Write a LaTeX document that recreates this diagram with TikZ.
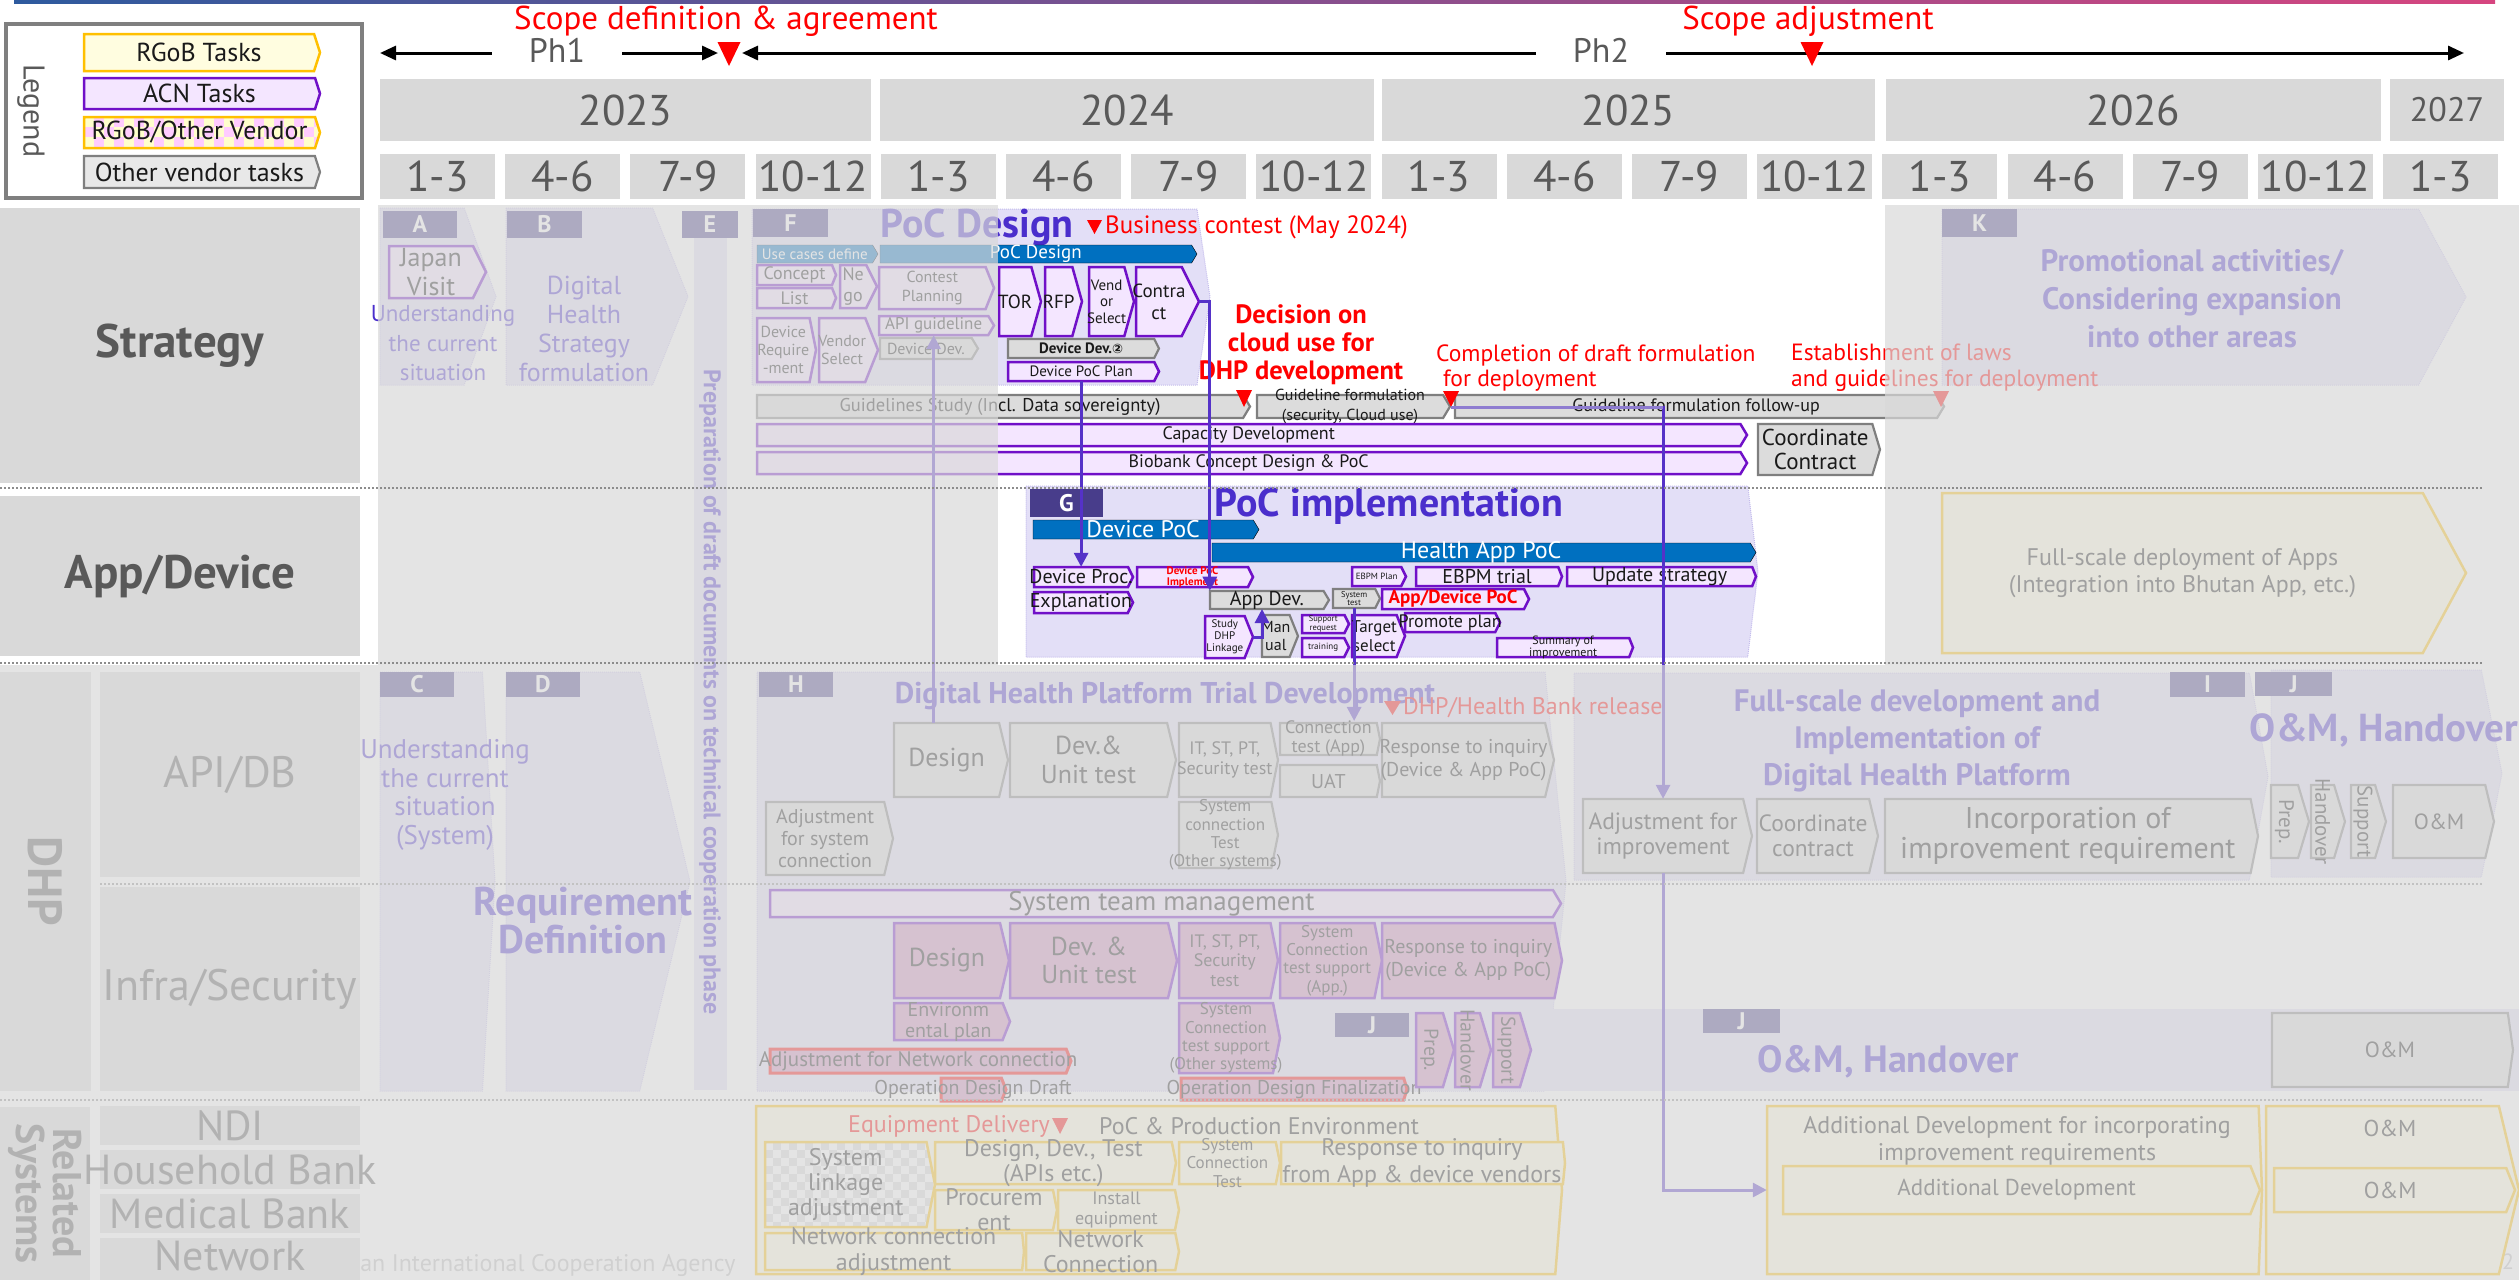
\documentclass[tikz,border=0pt]{standalone}
\usepackage{fontspec}
\setmainfont{PT Sans}
\newfontfamily\symb{DejaVu Sans}
\usetikzlibrary{arrows.meta}
\definecolor{acnD}{HTML}{7010C8}
\definecolor{acnF}{HTML}{F4E6FF}
\definecolor{acnP}{HTML}{D28CBE}
\definecolor{rgobD}{HTML}{FFC000}
\definecolor{rgobF}{HTML}{FFFDE0}
\definecolor{othD}{HTML}{7F7F7F}
\definecolor{othF}{HTML}{DCDCDC}
\definecolor{phaseF}{HTML}{E3DFF7}
\definecolor{phaseD}{HTML}{C4BCEC}
\definecolor{labC}{HTML}{483D8B}
\definecolor{blueC}{HTML}{0070C0}
\definecolor{ttlC}{HTML}{4A2ECC}
\definecolor{hdrF}{HTML}{D9D9D9}
\definecolor{hdrT}{HTML}{595959}
\definecolor{txtC}{HTML}{1A1A1A}
\definecolor{connC}{HTML}{5532C8}
\definecolor{connL}{HTML}{8E7CD0}
\definecolor{topL}{HTML}{2E5A9E}
\definecolor{topR}{HTML}{D6457F}
\definecolor{fadeC}{HTML}{D9D9D9}
\definecolor{dotC}{HTML}{8C8C8C}
\definecolor{pinkC}{HTML}{FFCCFF}
\definecolor{creamC}{HTML}{FFFFCC}
\definecolor{jicaC}{HTML}{BBBBBB}
\newcommand\fsz[2][1.15]{\fontsize{#2}{\fpeval{#1*#2}}\selectfont}
\tikzset{
 acn/.style={draw=acnD, fill=acnF, line width=2.5pt},
 acnp/.style={draw=acnD, fill=acnP, line width=2.5pt},
 rgob/.style={draw=rgobD, fill=rgobF, line width=2.5pt},
 oth/.style={draw=othD, fill=othF, line width=2.2pt},
 redb/.style={draw=red, fill=acnP, line width=3pt},
 phase/.style={draw=phaseD, fill=phaseF, line width=1pt, densely dotted},
 bluebar/.style={fill=blueC},
 tx/.style={font={\fsz{#1}}, text=txtC},
 txl/.style 2 args={font={\fsz[#2]{#1}}, text=txtC},
 txb/.style={font={\fsz{#1}\bfseries}, text=txtC},
 wt/.style={font={\fsz{#1}}, text=white},
 ttl/.style={font={\fsz{#1}\bfseries}, text=ttlC, align=center, inner sep=0},
 ttll/.style 2 args={font={\fsz[#2]{#1}\bfseries}, text=ttlC, align=center, inner sep=0},
 ptx/.style 2 args={font={\fsz[#2]{#1}}, text=ttlC, align=center, inner sep=0},
 rtx/.style={font={\fsz{#1}}, text=red, inner sep=0},
 lab/.style={fill=labC, text=white, font={\fsz{24}\bfseries}, inner sep=0},
 hdr/.style={fill=hdrF, text=hdrT, inner sep=0},
 conn/.style={draw=connC, line width=3pt, -{Triangle[length=14pt,width=14pt]}},
 dots/.style={draw=dotC, line width=1.8pt, dash pattern=on 1.8pt off 2.2pt},
}
% chevron: [tip fraction]{name}{draw style}{node style}{x1}{y1}{x2}{y2}{text}
\newcommand{\chev}[9][0.15]{%
 \pgfmathsetmacro\chD{#1*((#8)-(#6))}%
 \pgfmathsetmacro\chM{((#6)+(#8))/2}%
 \pgfmathsetmacro\chB{(#7)-\chD}%
 \pgfmathsetmacro\chW{\chB-(#5)}%
 \pgfmathsetmacro\chH{(#8)-(#6)}%
 \pgfmathsetmacro\chX{((#5)+\chB)/2}%
 \draw[#3] (#5,#6) -- (\chB,#6) -- (#7,\chM) -- (\chB,#8) -- (#5,#8) -- cycle;
 \node[inner sep=0, minimum width=\chW, minimum height=\chH, align=center, #4] (#2) at (\chX,\chM) {#9};
}
\newcommand\lbl[6]{\node[lab, minimum width={#4-#2}, minimum height={#5-#3}] (#1) at ({(#2+#4)/2},{(#3+#5)/2}) {#6};}
\newcommand\hdrbox[7]{\node[hdr, font={\fsz{#6}}, minimum width={#4-#2}, minimum height={#5-#3}] (#1) at ({(#2+#4)/2},{(#3+#5)/2}) {#7};}
\newcommand\rtri[5]{\fill[#5] ({#1-#4},#2) -- ({#1+#4},#2) -- (#1,#3) -- cycle;}
\begin{document}
\begin{tikzpicture}[x=1pt,y=-1pt]
\useasboundingbox (0,0) rectangle (2519,1280);
\shade[left color=topL, right color=topR] (14,0) rectangle (2495,3.5);

% ---------- legend ----------
\node[draw=othD, line width=4pt, fill=white, minimum width=356, minimum height=174, inner sep=0] (legend) at (184,111) {};
\node[rotate=-90, text=hdrT, font={\fsz{30}}] (legT) at (31,111) {Legend};
\chev[0.16]{lg1}{rgob}{tx=26}{84}{34}{320}{71}{RGoB Tasks}
\chev[0.16]{lg2}{acn}{tx=26}{84}{78}{320}{109}{ACN Tasks}
\begin{scope}
\clip (84,117) -- (315,117) -- (320,132.5) -- (315,148) -- (84,148) -- cycle;
\fill[creamC] (84,117) rectangle (320,148);
\foreach \i in {0,...,23} \foreach \j in {0,...,3} {\ifodd\numexpr\i+\j\relax \fill[pinkC] ({84+10*\i},{117+10*\j}) rectangle ++(10,10); \fi}
\end{scope}
\chev[0.16]{lg3}{draw=rgobD, line width=2.5pt}{tx=26}{84}{117}{320}{148}{RGoB/Other Vendor}
\chev[0.16]{lg4}{oth, fill=black!9}{tx=26}{84}{156}{320}{188}{Other vendor tasks}

% ---------- header ----------
\node[rtx=33] (sda) at (726,21) {Scope definition \& agreement};
\node[rtx=33] (sadj) at (1808,21) {Scope adjustment};
\node[text=hdrT, font={\fsz{34}}, inner xsep=37pt, inner ysep=0] (ph1) at (557,50) {Ph1};
\node[text=hdrT, font={\fsz{34}}, inner xsep=37pt, inner ysep=0] (ph2) at (1601,50) {Ph2};
\coordinate (ph1a) at (380,53); \coordinate (ph1b) at (718,53);
\coordinate (ph2a) at (742,53); \coordinate (ph2b) at (2464,53);
\draw[line width=3pt, -{Triangle[length=16pt,width=14pt]}] (ph1.west |- ph1a) -- (ph1a);
\draw[line width=3pt, -{Triangle[length=16pt,width=14pt]}] (ph1.east |- ph1b) -- (ph1b);
\draw[line width=3pt, -{Triangle[length=16pt,width=14pt]}] (ph2.west |- ph2a) -- (ph2a);
\draw[line width=3pt, -{Triangle[length=16pt,width=14pt]}] (ph2.east |- ph2b) -- (ph2b);
\rtri{729}{42}{66}{11.5}{red}
\rtri{1812}{42}{66}{11.5}{red}
\hdrbox{y23}{380}{79}{871}{141}{43}{2023}
\hdrbox{y24}{880}{79}{1374}{141}{43}{2024}
\hdrbox{y25}{1382}{79}{1875}{141}{43}{2025}
\hdrbox{y26}{1886}{79}{2381}{141}{43}{2026}
\hdrbox{y27}{2390}{79}{2504}{141}{34}{2027}
\foreach \ql [count=\i from 0] in {1-3,4-6,7-9,10-12,1-3,4-6,7-9,10-12,1-3,4-6,7-9,10-12,1-3,4-6,7-9,10-12,1-3}
 {\node[hdr, font={\fsz{43}}, minimum width=115, minimum height=45] (q\i) at ({437.5+125.2*\i},176.5) {\ql};}

% ---------- left labels ----------
\node[hdr, minimum width=360, minimum height=275, font={\fsz{47}\bfseries}] (rStr) at (180,345.5) {Strategy};
\node[hdr, minimum width=360, minimum height=160, font={\fsz{47}\bfseries}] (rApp) at (180,576) {App/Device};
\node[text=jicaC, font={\fsz{24}}, anchor=east] (jica) at (739,1265) {Japan International Cooperation Agency};
\node[hdr, rotate=-90, minimum width=419, minimum height=91, font={\fsz{48}\bfseries}] (rDHP) at (45.5,881.5) {DHP};
\node[hdr, minimum width=260, minimum height=205, font={\fsz{44}}] (rAPI) at (230,774.5) {API/DB};
\node[hdr, minimum width=260, minimum height=204, font={\fsz{44}}] (rInf) at (230,989) {Infra/Security};
\node[hdr, rotate=-90, minimum width=173, minimum height=90, align=center, font={\fsz[0.92]{40}\bfseries}] (rRel) at (45,1193.5) {Related\\Systems};
\fill[hdrF] (100,1106) rectangle (360,1145);
\fill[hdrF] (100,1150) rectangle (360,1189);
\fill[hdrF] (100,1194) rectangle (360,1233);
\fill[hdrF] (100,1238) rectangle (360,1280);
\node[text=hdrT, font={\fsz{42}}, inner sep=0] (rNDI) at (230,1125.5) {NDI};
\node[text=hdrT, font={\fsz{42}}, inner sep=0] (rHH) at (230,1169.5) {Household Bank};
\node[text=hdrT, font={\fsz{42}}, inner sep=0] (rMB) at (230,1213.5) {Medical Bank};
\node[text=hdrT, font={\fsz{42}}, inner sep=0] (rNW) at (230,1256) {Network};
\node[text=jicaC, font={\fsz{22}}] (pgno) at (2508,1262) {2};

% ---------- phase backgrounds ----------
\chev[0.18]{pA}{phase}{}{380}{208}{496}{385}{}
\chev[0.2]{pB}{phase}{}{506}{208}{688}{385}{}
\chev[0.074]{pF}{phase}{}{752}{209}{1210}{385}{}
\chev[0.27]{pK}{phase}{}{1942}{209}{2466}{385}{}
\chev[0.06]{pG}{phase}{}{1026}{486}{1758}{657}{}
\chev[0.03]{pC}{phase}{}{380}{672}{495}{1091}{}
\chev[0.12]{pD}{phase}{}{506}{672}{690}{1091}{}
\chev[0.05]{pH}{phase}{}{757}{672}{1566}{1091}{}
\chev[0.09]{pI}{phase}{}{1574}{673}{2268}{880}{}
\chev[0.1]{pJ}{phase}{}{2271}{670}{2502}{877}{}
\node[fill=phaseF, minimum width=1126, minimum height=82, inner sep=0] (pJ2) at (1956,1050) {};
\node[fill=phaseF, minimum width=33, minimum height=852, inner sep=0] (pE) at (710.5,664) {};
\node[rotate=-90, font={\fsz{24}\bfseries}, text=ttlC] (tE) at (710,692) {Preparation of draft documents on technical cooperation phase};

% ---------- strategy row ----------
\lbl{lA}{383}{211}{457}{238}{A}
\chev[0.25]{jv}{acn}{txl={26}{1.1}}{389}{246}{486}{298}{Japan\\Visit}
\node[ptx={23}{1.28}] (uA) at (443,343) {Understanding\\the current\\situation};
\lbl{lB}{507}{211}{582}{238}{B}
\node[ptx={26}{1.12}] (tB) at (584,329) {Digital\\Health\\Strategy\\formulation};
\lbl{lE}{682}{211}{738}{238}{E}
\lbl{lF}{753}{209}{828}{237}{F}
\node[ttl=40] (tF) at (977,227) {PoC Design};
\chev[0.3]{ucd}{bluebar}{wt=15}{757}{245}{878}{263}{Use cases define}
\chev[0.3]{pdb}{bluebar}{wt=19}{880}{245}{1197}{263}{PoC Design}
\chev[0.2]{cpt}{acn}{tx=18}{757}{265}{836}{285}{Concept}
\chev[0.2]{lst}{acn}{tx=18}{757}{288}{836}{308}{List}
\chev[0.25]{ngo}{acn}{tx=18}{840}{265}{877}{308}{Ne\\go}
\chev[0.2]{cpl}{acn}{tx=16}{879}{267}{994}{309}{Contest\\Planning}
\chev[0.3]{apig}{acn}{tx=17}{879}{316}{994}{335}{API guideline}
\chev[0.3]{ddv}{oth}{tx=16}{880}{338}{978}{359}{Device Dev.}
\chev[0.1]{dreq}{acn}{txl={16}{1.1}}{757}{318}{816}{382}{Device\\Require\\-ment}
\chev[0.2]{vsel}{acn}{tx=16}{819}{318}{878}{382}{Vendor\\Select}
\chev[0.14]{tor}{acn}{tx=19}{999}{267}{1041}{336}{TOR}
\chev[0.14]{rfp}{acn}{tx=19}{1045}{267}{1082}{336}{RFP}
\chev[0.14]{vos}{acn}{txl={15}{1.1}}{1089}{267}{1134}{336}{Vend\\or\\Select}
\chev[0.25]{ctr}{acn}{tx=19}{1136}{267}{1199}{336}{Contra\\ct}
\chev[0.25]{dd2}{oth}{txb=15}{1008}{339}{1159}{358}{Device Dev.{\symb\fsz{13}②}}
\chev[0.25]{dpp}{acn}{tx=15}{1008}{362}{1159}{381}{Device PoC Plan}
\chev[0.3]{gls}{oth}{tx=18.5}{757}{395}{1250}{418}{Guidelines Study (Incl. Data sovereignty)}
\chev[0.3]{glf}{oth}{txl={16}{1.2}}{1257}{395}{1450}{418}{Guideline formulation\\(security, Cloud use)}
\chev[0.3]{glfu}{oth}{tx=18}{1455}{395}{1944}{418}{Guideline formulation follow-up}
\rtri{1244}{390}{407}{8}{red}
\rtri{1451}{391}{407}{8}{red}
\rtri{1941}{391}{407}{8}{red}
\coordinate (trB) at (1451,407);
\chev[0.3]{cap}{acn}{tx=18}{757}{424}{1747}{446}{Capacity Development}
\chev[0.3]{bio}{acn}{tx=18}{757}{452}{1747}{474}{Biobank Concept Design \& PoC}
\chev[0.15]{coc}{oth}{txl={23}{1.08}}{1758}{424}{1880}{475}{Coordinate\\Contract}
\node[rtx=25, anchor=west] (bc) at (1105,227) {Business contest (May 2024)};
\fill[red] (bc.west) ++(-18,-7) -- ++(15,0) -- ++(-7.5,14) -- cycle;
\node[font={\fsz[1.05]{26.5}\bfseries}, text=red, align=center, inner sep=0] (dec) at (1301,345) {Decision on\\cloud use for\\DHP development};
\node[font={\fsz[1.1]{23.5}}, text=red, align=left, anchor=west, inner sep=0] (cmp) at (1436,368) {Completion of draft formulation\\\hspace*{7pt}for deployment};
\node[font={\fsz[1.1]{23.5}}, text=red, align=left, anchor=west, inner sep=0] (est) at (1791,368) {Establishment of laws\\and guidelines for deployment};
\lbl{lK}{1942}{209}{2017}{237}{K}
\node[ttll={31}{1.23}] (tK) at (2192,299) {Promotional activities/\\Considering expansion\\into other areas};

% ---------- app/device row ----------
\lbl{lG}{1030}{489}{1103}{517}{G}
\node[ttl=40] (tG) at (1389,506) {PoC implementation};
\chev[0.3]{dpoc}{bluebar}{wt=24}{1033}{520}{1259}{539}{Device PoC}
\chev[0.3]{hapoc}{bluebar}{wt=24}{1212}{543}{1756}{562}{Health App PoC}
\chev[0.25]{dpr}{acn}{tx=20}{1034}{567}{1133}{587}{Device Proc.}
\chev[0.25]{dpi}{acn}{font={\fsz[1.05]{11}\bfseries}, text=red}{1137}{567}{1253}{587}{Device PoC\\Implement}
\chev[0.25]{expl}{acn}{tx=20}{1034}{592}{1133}{613}{Explanation}
\chev[0.3]{appd}{oth}{tx=20}{1210}{591}{1329}{609}{App Dev.}
\chev[0.2]{sdl}{acn}{txl={11}{1.1}}{1205}{616}{1253}{658}{Study\\DHP\\Linkage}
\chev[0.2]{man}{oth}{tx=16}{1262}{615}{1298}{657}{Man\\ual}
\chev[0.25]{spr}{acn}{txl={8.5}{1.0}}{1302}{615}{1349}{633}{Support\\request}
\chev[0.25]{trn}{acn}{tx=9}{1302}{638}{1349}{657}{training}
\chev[0.25]{syt}{oth}{txl={8.5}{1.0}}{1333}{589}{1380}{608}{System\\test}
\chev[0.2]{tgs}{acn}{tx=17}{1352}{615}{1405}{657}{Target\\select}
\chev[0.25]{adp}{acn}{txb=19, text=red}{1382}{589}{1529}{609}{App/Device PoC}
\chev[0.25]{ebp}{acn}{tx=9}{1352}{567}{1406}{586}{EBPM Plan}
\chev[0.2]{ebt}{acn}{tx=20}{1416}{567}{1562}{586}{EBPM trial}
\chev[0.2]{ups}{acn}{tx=20}{1567}{567}{1756}{586}{Update strategy}
\chev[0.25]{prp}{acn}{tx=18}{1405}{613}{1500}{632}{Promote plan}
\chev[0.2]{sum}{acn}{txl={12}{1.0}}{1497}{638}{1633}{657}{Summary of\\improvement}
\chev[0.27]{fsa}{rgob}{tx=24}{1942}{493}{2466}{653}{Full-scale deployment of Apps\\(Integration into Bhutan App, etc.)}

% ---------- DHP: API/DB ----------
\lbl{lC}{380}{672}{454}{697}{C}
\node[ptx={27}{1.06}] (tC) at (445,795) {Understanding\\the current\\situation\\(System)};
\lbl{lD}{506}{672}{580}{697}{D}
\node[ttll={40}{0.95}] (tD) at (583,921) {Requirement\\Definition};
\lbl{lH}{759}{672}{833}{697}{H}
\node[ttl=30] (tH) at (1165,696) {Digital Health Platform Trial Development};
\chev[0.12]{hdes}{oth}{tx=26}{894}{723}{1008}{797}{Design}
\chev[0.12]{hdev}{oth}{txl={26}{1.1}}{1010}{723}{1176}{797}{Dev.\&\\Unit test}
\chev[0.1]{hit}{oth}{tx=18}{1179}{723}{1278}{797}{IT, ST, PT,\\Security test}
\chev[0.1]{hsct}{oth}{txl={17}{1.08}}{1179}{802}{1278}{868}{System\\connection\\Test\\(Other systems)}
\chev[0.1]{hcta}{oth}{txl={18}{1.05}}{1280}{723}{1380}{755}{Connection\\test (App)}
\chev[0.1]{huat}{oth}{tx=20}{1280}{765}{1380}{797}{UAT}
\chev[0.12]{hres}{oth}{tx=20}{1382}{723}{1554}{797}{Response to inquiry\\(Device \& App PoC)}
\chev[0.12]{hadj}{oth}{txl={20}{1.1}}{766}{802}{893}{875}{Adjustment\\for system\\connection}
\node[rtx=24, anchor=west] (dhr) at (1403,708) {DHP/Health Bank release};
\fill[red] (dhr.west) ++(-19,-7) -- ++(17,0) -- ++(-8.5,14) -- cycle;
\lbl{lI}{2170}{672}{2245}{697}{I}
\node[ttll={31}{1.2}] (tI) at (1917,741) {Full-scale development and\\Implementation of\\Digital Health Platform};
\chev[0.12]{aimp}{oth}{txl={23.5}{1.05}}{1583}{799}{1752}{873}{Adjustment for\\improvement}
\chev[0.12]{ccon}{oth}{txl={23.5}{1.05}}{1757}{799}{1878}{873}{Coordinate\\contract}
\chev[0.1]{incr}{oth}{txl={30}{1.0}}{1885}{799}{2258}{873}{Incorporation of\\improvement requirement}
\lbl{lJ}{2255}{672}{2332}{696}{J}
\node[ttl=39] (tJ) at (2384,730) {O\&M, Handover};
\chev[0.15]{jp1}{oth}{}{2271}{785}{2309}{858}{}
\chev[0.15]{jp2}{oth}{}{2311}{785}{2345}{858}{}
\chev[0.15]{jp3}{oth}{}{2351}{785}{2386}{858}{}
\node[tx=21, rotate=-90] (jp1t) at (jp1.center) {Prep.};
\node[tx=21, rotate=-90] (jp2t) at (jp2.center) {Handover};
\node[tx=21, rotate=-90] (jp3t) at (jp3.center) {Support};
\chev[0.12]{jom}{oth}{tx=22}{2393}{785}{2494}{858}{O\&M}

% ---------- DHP: Infra/Security ----------
\chev[0.3]{stm}{acn}{tx=27}{770}{890}{1561}{917}{System team management}
\chev[0.12]{ides}{acnp}{tx=26}{894}{923}{1009}{998}{Design}
\chev[0.12]{idev}{acnp}{txl={26}{1.1}}{1010}{923}{1177}{998}{Dev. \&\\Unit test}
\chev[0.1]{iit}{acnp}{txl={18}{1.1}}{1179}{923}{1278}{998}{IT, ST, PT,\\Security\\test}
\chev[0.1]{isca}{acnp}{txl={17}{1.08}}{1280}{923}{1382}{998}{System\\Connection\\test support\\(App.)}
\chev[0.1]{ires}{acnp}{tx=20}{1382}{923}{1562}{998}{Response to inquiry\\(Device \& App PoC)}
\chev[0.2]{ienv}{acnp}{txl={20}{1.05}}{894}{1003}{1010}{1040}{Environm\\ental plan}
\chev[0.1]{isco}{acnp}{txl={17}{1.08}}{1179}{1003}{1280}{1073}{System\\Connection\\test support\\(Other systems)}
\chev[0.2]{anet}{redb}{tx=21}{770}{1049}{1071}{1073}{Adjustment for Network connection}
\chev[0.2]{odd}{redb}{}{941}{1078}{1006}{1101}{}
\node[tx=20] (oddT) at (973,1089) {Operation Design Draft};
\chev[0.15]{odf}{redb}{}{1181}{1078}{1407}{1100}{}
\node[tx=20] (odfT) at (1294,1089) {Operation Design Finalization};
\lbl{lJb}{1335}{1013}{1409}{1037}{J}
\chev[0.15]{jq1}{acnp}{}{1416}{1013}{1454}{1087}{}
\chev[0.15]{jq2}{acnp}{}{1455}{1013}{1491}{1087}{}
\chev[0.15]{jq3}{acnp}{}{1493}{1013}{1531}{1087}{}
\node[tx=20, rotate=-90] (jq1t) at (jq1.center) {Prep.};
\node[tx=20, rotate=-90] (jq2t) at (jq2.center) {Handover};
\node[tx=20, rotate=-90] (jq3t) at (jq3.center) {Support};
\lbl{lJc}{1703}{1009}{1780}{1033}{J}
\node[ttl=38] (tJb) at (1888,1062) {O\&M, Handover};
\chev[0.07]{jom2}{oth}{tx=22}{2272}{1013}{2513}{1087}{O\&M}

% ---------- related systems ----------
\chev[0.04]{rg1}{rgob}{}{756}{1106}{1562}{1274}{}
\node[rtx=24, anchor=west] (eqd) at (848,1126) {Equipment Delivery};
\fill[red] (eqd.east) ++(2,-8) -- ++(16,0) -- ++(-8,16) -- cycle;
\node[tx=24, anchor=west, inner sep=0] (ppe) at (1099,1126) {PoC \& Production Environment};
\begin{scope}
\clip (765,1142) -- (926.5,1142) -- (935,1184.5) -- (926.5,1227) -- (765,1227) -- cycle;
\fill[white] (765,1142) rectangle (935,1227);
\foreach \i in {0,...,21} \foreach \j in {0,...,10} {\ifodd\numexpr\i+\j\relax \fill[othF] ({765+8*\i},{1142+8*\j}) rectangle ++(8,8); \fi}
\end{scope}
\chev[0.1]{sla}{draw=rgobD, line width=2.5pt}{txl={24}{1.05}}{765}{1142}{935}{1227}{System\\linkage\\adjustment}
\chev[0.1]{dda}{rgob}{txl={24}{1.05}}{935}{1142}{1176}{1184}{Design, Dev., Test\\(APIs etc.)}
\chev[0.1]{rsct}{rgob}{txl={17}{1.08}}{1179}{1142}{1280}{1184}{System\\Connection\\Test}
\chev[0.05]{rrsp}{rgob}{txl={24}{1.1}}{1281}{1142}{1565}{1184}{Response to inquiry\\from App \& device vendors}
\chev[0.1]{rproc}{rgob}{txl={24}{1.05}}{935}{1190}{1057}{1230}{Procurem\\ent}
\chev[0.1]{rinst}{rgob}{txl={18}{1.1}}{1058}{1190}{1179}{1230}{Install\\equipment}
\chev[0.05]{rnca}{rgob}{txl={24}{1.05}}{765}{1233}{1024}{1270}{Network connection\\adjustment}
\chev[0.1]{rnc}{rgob}{txl={24}{1.05}}{1026}{1233}{1179}{1270}{Network\\Connection}
\chev[0.02]{rg2}{rgob}{}{1767}{1106}{2262}{1274}{}
\node[txl={24}{1.1}, align=center] (adt) at (2017,1141) {Additional Development for incorporating\\improvement requirements};
\chev[0.2]{radd}{rgob}{tx=23}{1783}{1166}{2260}{1214}{Additional Development}
\chev[0.12]{rg3}{rgob}{}{2266}{1106}{2519}{1274}{}
\node[tx=23] (omt) at (2390,1128) {O\&M};
\chev[0.2]{rom}{rgob}{tx=23}{2274}{1168}{2515}{1212}{O\&M}

% ---------- connectors ----------
\coordinate (ctrtip) at (1199,301.5);
\coordinate (appdB) at (1262,609);
\coordinate (sdlT) at (1253,637);
\draw[conn] (apig.south |- hdes.north) -- (apig.south);
\draw[conn] (dpp.south) -- (dpp.south |- dpr.north);
\draw[conn] (ctrtip) -| (appd.north west);
\draw[conn] (trB) -| (aimp.north);
\draw[draw=connL, line width=3pt] (trB) -- (trB -| aimp.north);
\draw[conn] (syt.south) -- (syt.south |- hcta.north);
\draw[conn] (aimp.south) |- (rg2.west);
\draw[conn] (sdlT) -| (appdB);

% faint separators
\draw[dots] (100,884) -- (2482,884);
\draw[dots] (0,1100) -- (2482,1100);

% ---------- fading overlay ----------
\fill[fadeC, opacity=0.7] (378,205) rectangle (998,665);
\fill[fadeC, opacity=0.7] (1885,205) rectangle (2519,665);
\fill[fadeC, opacity=0.7] (0,665) rectangle (2519,1280);

\draw[dots] (0,488) -- (2482,488);
\draw[dots] (0,663) -- (2482,663);
\end{tikzpicture}
\end{document}
